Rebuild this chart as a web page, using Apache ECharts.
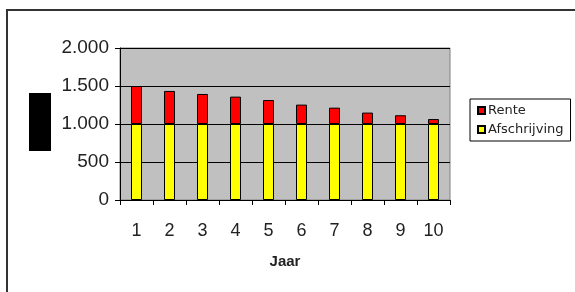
<!DOCTYPE html>
<html>
<head>
<meta charset="utf-8">
<script src="https://cdn.jsdelivr.net/npm/echarts@6/dist/echarts.min.js"></script>
<style>
  html, body { margin: 0; padding: 0; background: #fff; }
  #chart { width: 575px; height: 292px; }
</style>
</head>
<body>
<div id="chart"></div>
<script>
var jaren = ['1', '2', '3', '4', '5', '6', '7', '8', '9', '10'];
var afschrijving = [1000, 1000, 1000, 1000, 1000, 1000, 1000, 1000, 1000, 1000];
var rente = [500, 435, 395, 360, 315, 255, 215, 150, 115, 65];
var yTicks = [0, 500, 1000, 1500, 2000];

var chart = echarts.init(document.getElementById('chart'), null, { renderer: 'canvas' });

// 1000 -> "1.000"
function fmt(v) {
    return String(v).replace(/\B(?=(\d{3})+(?!\d))/g, '.');
}

var option = {
    animation: false,
    backgroundColor: '#fff',
    textStyle: { fontFamily: 'Liberation Sans, Arial, sans-serif' },
    grid: {
        left: 120, top: 48, width: 330, height: 152,
        show: true,
        backgroundColor: '#c0c0c0',
        borderColor: '#808080',
        borderWidth: 1
    },
    legend: {
        data: ['Rente', 'Afschrijving'],
        orient: 'vertical',
        left: 470, top: 99,
        width: 99,
        padding: [5, 7, 5, 7],
        itemGap: 6,
        itemWidth: 7, itemHeight: 7,
        icon: 'rect',
        borderColor: '#000',
        borderWidth: 1,
        textStyle: { fontFamily: 'DejaVu Sans', fontSize: 13, color: '#222', padding: [0, 0, 0, -2] }
    },
    xAxis: {
        type: 'category',
        data: jaren,
        name: 'Jaar',
        nameLocation: 'middle',
        nameGap: 54,
        nameTextStyle: { fontSize: 15, fontWeight: 'bold', color: '#222' },
        axisLine: { lineStyle: { color: '#000', width: 1 } },
        axisTick: { show: true, alignWithLabel: false, length: 5, lineStyle: { color: '#000' } },
        axisLabel: { fontSize: 18, color: '#222', margin: 22 }
    },
    yAxis: {
        type: 'value',
        min: yTicks[0], max: yTicks[yTicks.length - 1], interval: 500,
        axisLine: { show: true, lineStyle: { color: '#000', width: 1 } },
        axisTick: { show: true, length: 5, lineStyle: { color: '#000' } },
        axisLabel: { fontSize: 19, color: '#222', margin: 11, formatter: fmt },
        splitLine: { show: true, lineStyle: { color: '#000', width: 1 } }
    },
    series: [
        {
            name: 'Afschrijving',
            type: 'bar',
            stack: 'totaal',
            data: afschrijving,
            barWidth: 11,
            itemStyle: { color: '#ffff00', borderColor: '#000', borderWidth: 1 }
        },
        {
            name: 'Rente',
            type: 'bar',
            stack: 'totaal',
            data: rente,
            barWidth: 11,
            itemStyle: { color: '#ff0000', borderColor: '#000', borderWidth: 1 }
        }
    ],
    graphic: [
        {
            type: 'rect',
            shape: { x: 7, y: 10, width: 600, height: 300 },
            style: { fill: 'none', stroke: '#333', lineWidth: 2 },
            z: 10
        },
        {
            type: 'rect',
            shape: { x: 29, y: 93, width: 22, height: 58 },
            style: { fill: '#000' }
        }
    ]
};
chart.setOption(option);
</script>
</body>
</html>
